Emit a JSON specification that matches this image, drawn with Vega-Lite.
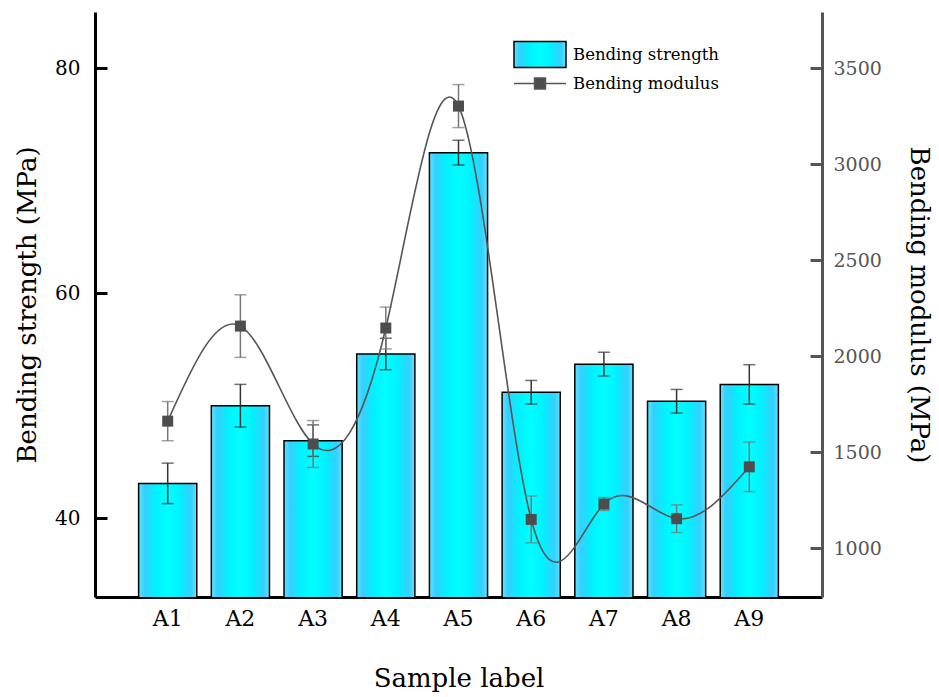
{
  "$schema": "https://vega.github.io/schema/vega-lite/v6.json",
  "width": 727,
  "height": 585,
  "autosize": {"type": "none"},
  "padding": {"left": 95, "top": 12, "right": 117, "bottom": 100},
  "background": "white",
  "config": {
    "view": {"stroke": null},
    "font": "DejaVu Serif",
    "axis": {"grid": false, "labelFont": "DejaVu Serif", "titleFont": "DejaVu Serif", "titleFontWeight": "normal"},
    "legend": {
      "labelFont": "DejaVu Serif",
      "orient": "none",
      "legendX": 418,
      "legendY": 28,
      "padding": 0,
      "symbolSize": 2704,
      "clipHeight": 29,
      "rowPadding": 0,
      "labelFontSize": 16.5,
      "labelColor": "black",
      "labelOffset": 6,
      "symbolStrokeWidth": 1.5,
      "symbolOpacity": 1
    }
  },
  "data": {
    "values": [
      {"label": "A1", "s": 43.1, "se": 1.8, "m": 1661, "me": 102},
      {"label": "A2", "s": 50.0, "se": 1.9, "m": 2156, "me": 163},
      {"label": "A3", "s": 46.9, "se": 1.4, "m": 1542, "me": 122},
      {"label": "A4", "s": 54.6, "se": 1.4, "m": 2146, "me": 109},
      {"label": "A5", "s": 72.5, "se": 1.1, "m": 3302, "me": 112},
      {"label": "A6", "s": 51.2, "se": 1.05, "m": 1149, "me": 122},
      {"label": "A7", "s": 53.7, "se": 1.05, "m": 1229, "me": 34},
      {"label": "A8", "s": 50.4, "se": 1.05, "m": 1153, "me": 72},
      {"label": "A9", "s": 51.9, "se": 1.75, "m": 1423, "me": 129}
    ]
  },
  "encoding": {
    "x": {
      "field": "label",
      "type": "nominal",
      "sort": null,
      "scale": {"paddingInner": 0.2, "paddingOuter": 0.6},
      "axis": {
        "title": "Sample label",
        "titleFontSize": 26,
        "titleColor": "black",
        "titlePadding": 36,
        "labelAngle": 0,
        "labelFontSize": 22,
        "labelColor": "black",
        "labelPadding": 11,
        "ticks": false,
        "domainColor": "black",
        "domainWidth": 3
      }
    }
  },
  "layer": [
    {
      "layer": [
        {
          "mark": {
            "type": "bar",
            "clip": true,
            "color": {
              "gradient": "linear",
              "x1": 0, "y1": 0, "x2": 1, "y2": 0,
              "stops": [
                {"offset": 0, "color": "#5ae6ff"},
                {"offset": 0.1, "color": "#36cfff"},
                {"offset": 0.3, "color": "#00f2ff"},
                {"offset": 0.5, "color": "#00ffff"},
                {"offset": 0.7, "color": "#00f2ff"},
                {"offset": 0.9, "color": "#36cfff"},
                {"offset": 1, "color": "#5ae6ff"}
              ]
            },
            "stroke": "black",
            "strokeWidth": 1.5
          },
          "encoding": {
            "y": {
              "field": "s",
              "type": "quantitative",
              "title": "Bending strength (MPa)",
              "scale": {"domain": [33, 85], "zero": false, "nice": false},
              "axis": {
                "orient": "left",
                "titleFontSize": 26,
                "titleColor": "black",
                "titlePadding": 14,
                "values": [40, 60, 80],
                "labelFontSize": 20,
                "labelColor": "black",
                "labelPadding": 27,
                "tickSize": -12,
                "tickWidth": 3,
                "tickColor": "black",
                "domainColor": "black",
                "domainWidth": 3
              }
            }
          }
        },
        {
          "mark": {"type": "errorbar", "color": "#333333", "thickness": 1.5, "ticks": {"size": 12, "color": "#333333"}},
          "encoding": {
            "y": {"field": "s", "type": "quantitative", "title": "Bending strength (MPa)", "scale": {"domain": [33, 85], "zero": false, "nice": false}},
            "yError": {"field": "se"}
          }
        }
      ]
    },
    {
      "layer": [
        {
          "mark": {"type": "line", "interpolate": "natural", "color": "#555555", "strokeWidth": 1.6},
          "encoding": {
            "y": {
              "field": "m",
              "type": "quantitative",
              "title": "Bending modulus (MPa)",
              "scale": {"domain": [745, 3792], "zero": false, "nice": false},
              "axis": {
                "orient": "right",
                "titleFontSize": 26,
                "titleColor": "black",
                "titlePadding": 24,
                "values": [1000, 1500, 2000, 2500, 3000, 3500],
                "format": "d",
                "labelFontSize": 19,
                "labelColor": "#555555",
                "labelPadding": 23,
                "tickSize": -12,
                "tickWidth": 3,
                "tickColor": "#555555",
                "domainColor": "#555555",
                "domainWidth": 3
              }
            }
          }
        },
        {
          "mark": {"type": "errorbar", "color": "#777777", "thickness": 1.5, "ticks": {"size": 12, "color": "#777777"}},
          "encoding": {
            "y": {"field": "m", "type": "quantitative", "title": "Bending modulus (MPa)", "scale": {"domain": [745, 3792], "zero": false, "nice": false}},
            "yError": {"field": "me"}
          }
        },
        {
          "mark": {"type": "point", "shape": "square", "filled": true, "size": 121, "color": "#4d4d4d", "opacity": 1},
          "encoding": {
            "y": {"field": "m", "type": "quantitative", "title": "Bending modulus (MPa)", "scale": {"domain": [745, 3792], "zero": false, "nice": false}}
          }
        }
      ]
    },
    {
      "transform": [{"filter": "false"}],
      "mark": {"type": "point", "size": 2704, "strokeWidth": 1.5, "opacity": 1},
      "encoding": {
        "shape": {
          "datum": "Bending modulus",
          "scale": {"domain": ["Bending strength", "Bending modulus"], "range": ["M-1,-0.5H1V0.5H-1Z", "M-1,0H-0.21M0.21,0H1M-0.21,-0.21H0.21V0.21H-0.21Z"]},
          "legend": {"title": null}
        },
        "fill": {
          "datum": "Bending modulus",
          "scale": {"domain": ["Bending strength", "Bending modulus"], "range": [{"expr": "{gradient: 'linear', x1: 0, y1: 0, x2: 1, y2: 0, stops: [{offset: 0, color: '#5ae6ff'}, {offset: 0.1, color: '#36cfff'}, {offset: 0.3, color: '#00f2ff'}, {offset: 0.5, color: '#00ffff'}, {offset: 0.7, color: '#00f2ff'}, {offset: 0.9, color: '#36cfff'}, {offset: 1, color: '#5ae6ff'}]}"}, "#4d4d4d"]},
          "legend": {"title": null}
        },
        "stroke": {
          "datum": "Bending modulus",
          "scale": {"domain": ["Bending strength", "Bending modulus"], "range": ["black", "#555555"]},
          "legend": {"title": null}
        }
      }
    }
  ],
  "resolve": {"scale": {"y": "independent"}}
}
